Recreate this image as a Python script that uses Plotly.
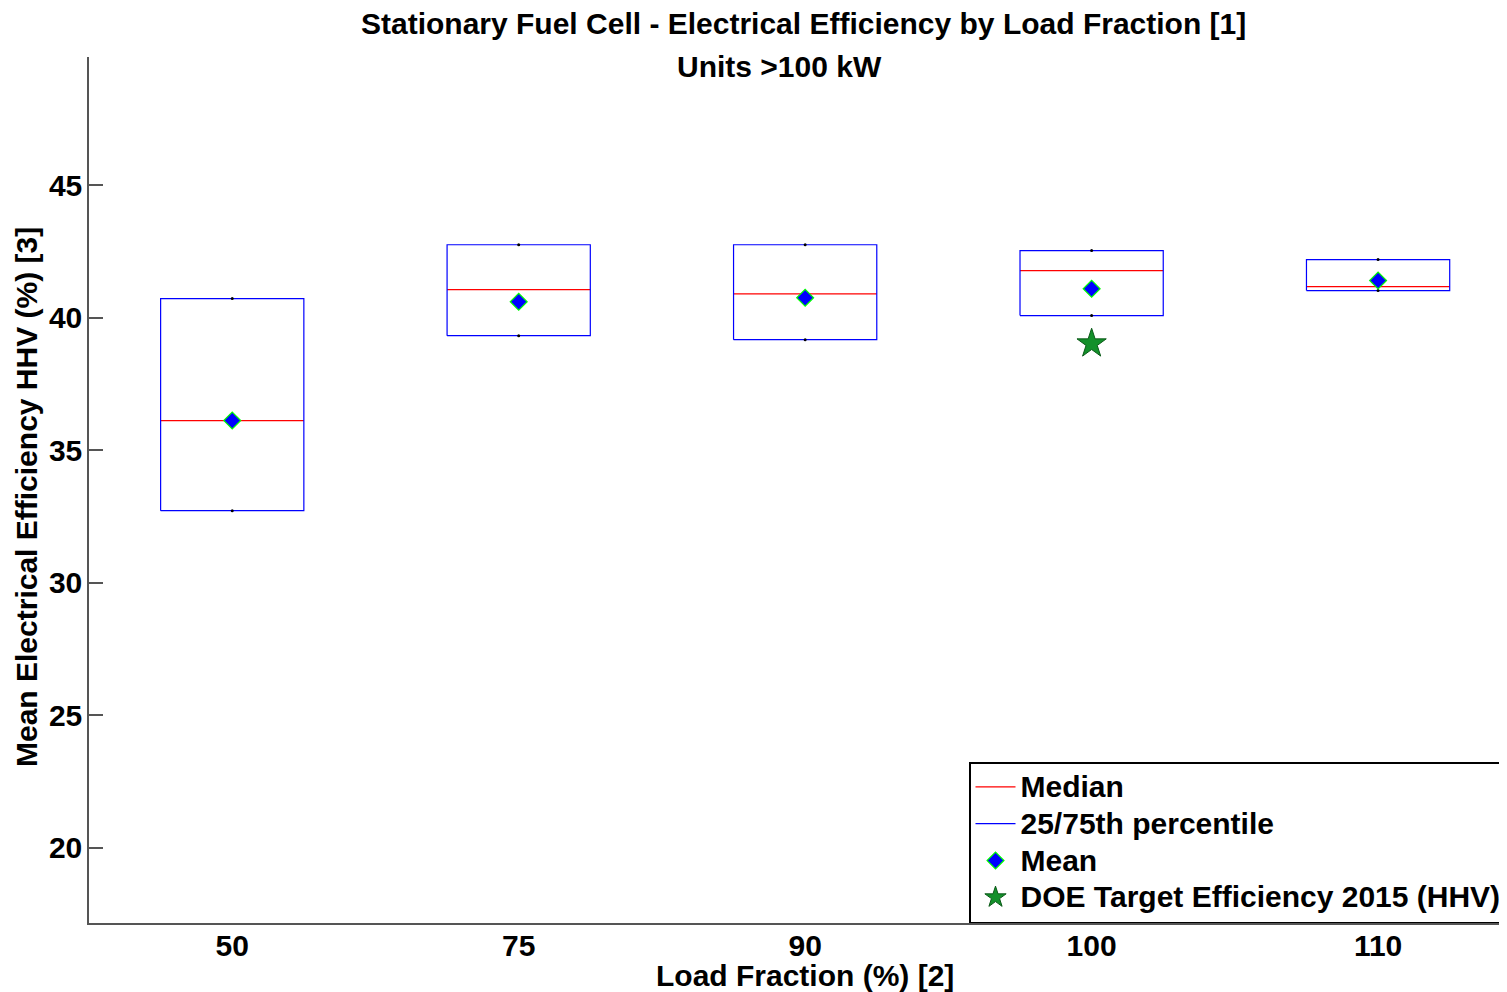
import plotly.graph_objects as go

# ---- data ----
categories = ["50", "75", "90", "100", "110"]
q1 = [32.72, 39.32, 39.17, 40.08, 41.02]
q3 = [40.72, 42.75, 42.75, 42.53, 42.19]
medians = [36.12, 41.06, 40.90, 41.77, 41.17]
means = [36.12, 40.60, 40.75, 41.09, 41.40]
doe_category = ["100"]
doe_target = [39.02]
legend_names = ["Median", "25/75th percentile", "Mean", "DOE Target Efficiency 2015 (HHV)"]

FONT = "Liberation Sans, Arial, sans-serif"
FS = 30
LEG_FS = 26
HALF = 0.25  # half box width in category units

xpos = {c: i + 1 for i, c in enumerate(categories)}


def lname(s):
    return f'<span style="font-size:{FS}px">{s}</span>'


fig = go.Figure()

# 25/75th percentile boxes (outline)
bx, by = [], []
for c, lo, hi in zip(categories, q1, q3):
    x = xpos[c]
    bx += [x - HALF, x + HALF, x + HALF, x - HALF, x - HALF, None]
    by += [lo, lo, hi, hi, lo, None]

# medians
mx, my = [], []
for c, m in zip(categories, medians):
    x = xpos[c]
    mx += [x - HALF, x + HALF, None]
    my += [m, m, None]

fig.add_trace(go.Scatter(x=mx, y=my, mode="lines", name=lname(legend_names[0]),
                         line=dict(color="#ff0000", width=1.2)))
fig.add_trace(go.Scatter(x=bx, y=by, mode="lines", name=lname(legend_names[1]),
                         line=dict(color="#0000ff", width=1.2)))

# whisker end dots (whiskers coincide with box edges)
wx, wy = [], []
for c, lo, hi in zip(categories, q1, q3):
    wx += [xpos[c], xpos[c]]
    wy += [lo, hi]
fig.add_trace(go.Scatter(x=wx, y=wy, mode="markers", showlegend=False,
                         marker=dict(color="black", size=3), hoverinfo="skip"))

fig.add_trace(go.Scatter(x=[xpos[c] for c in categories], y=means, mode="markers",
                         name=lname(legend_names[2]),
                         marker=dict(symbol="diamond", size=13, color="#0000ff",
                                     line=dict(color="#00ff00", width=1.2))))
fig.add_trace(go.Scatter(x=[xpos[c] for c in doe_category], y=doe_target,
                         mode="markers", name=lname(legend_names[3]),
                         marker=dict(symbol="star", size=22, color="#13902a",
                                     line=dict(color="#0b5a18", width=1))))

# page offset: the figure div sits 8 px from the page's top-left corner
OFF = 8
W, H = 1507 - OFF, 992 - OFF
L, T, B = 89 - OFF, 57 - OFF, 992 - 923
pw = W - L
ph = H - T - B


def px_x(p):
    return (p - OFF - L) / pw


def px_y(p):
    return (H - B - (p - OFF)) / ph


fig.update_layout(
    width=W, height=H,
    margin=dict(l=L, r=0, t=T, b=B, autoexpand=False),
    paper_bgcolor="white", plot_bgcolor="white",
    font=dict(family=FONT, size=FS, color="black"),
    showlegend=True,
    legend=dict(x=px_x(969), y=px_y(762), xanchor="left", yanchor="top",
                bgcolor="white", bordercolor="black", borderwidth=1.5,
                font=dict(family=FONT, size=LEG_FS, color="black", weight="bold"),
                tracegroupgap=0, itemwidth=40),
    xaxis=dict(range=[0.5, 5.45], tickmode="array",
               tickvals=[xpos[c] for c in categories], ticktext=categories,
               showgrid=False, zeroline=False, showline=True, linecolor="#555555",
               linewidth=1.5, ticks="", mirror=False, ticklabelstandoff=-5,
               tickfont=dict(family=FONT, size=FS, color="black", weight="bold")),
    yaxis=dict(range=[17.17, 49.83], tickvals=[20, 25, 30, 35, 40, 45],
               showgrid=False, zeroline=False, showline=True, linecolor="#555555",
               linewidth=1.5, ticks="inside", ticklen=14, tickcolor="#555555",
               tickwidth=1.5, ticklabelstandoff=-1,
               tickfont=dict(family=FONT, size=FS, color="black", weight="bold")),
)

ann = dict(xref="paper", yref="paper", showarrow=False,
           font=dict(family=FONT, size=FS, color="black", weight="bold"))
fig.add_annotation(text="Stationary Fuel Cell - Electrical Efficiency by Load Fraction [1]",
                   x=px_x(803), y=px_y(24), xanchor="center", yanchor="middle", **ann)
fig.add_annotation(text="Units >100 kW", x=px_x(779), y=px_y(66),
                   xanchor="center", yanchor="middle", **ann)
fig.add_annotation(text="Load Fraction (%) [2]", x=px_x(805), y=px_y(975),
                   xanchor="center", yanchor="middle", **ann)
fig.add_annotation(text="Mean Electrical Efficiency HHV (%) [3]", x=px_x(27), y=px_y(497),
                   xanchor="center", yanchor="middle", textangle=-90, **ann)

fig.write_html("out.html")
